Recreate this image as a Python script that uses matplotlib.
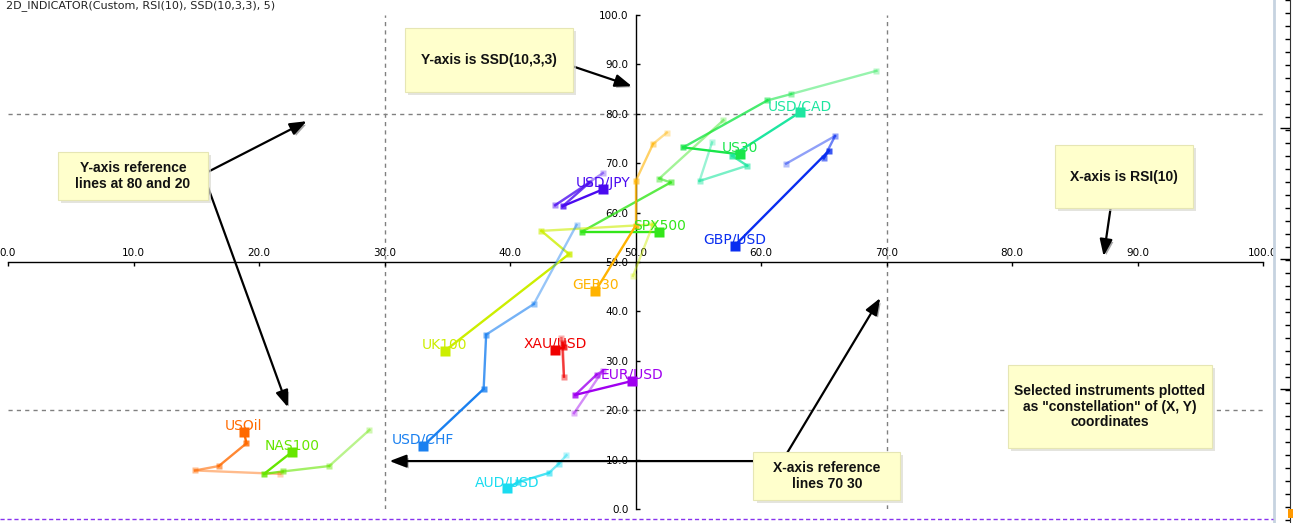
import matplotlib
matplotlib.use("Agg")
import matplotlib.pyplot as plt
import matplotlib.patheffects as pe
from matplotlib.patches import Rectangle
from matplotlib.lines import Line2D
from matplotlib.ticker import MultipleLocator, FixedLocator

# instruments, trail of 5 readings (oldest -> newest)
names = ["USD/CAD", "US30", "SPX500", "GBP/USD", "USD/JPY", "GER30", "UK100",
         "USD/CHF", "XAU/USD", "EUR/USD", "AUD/USD", "USOil", "NAS100"]
rsi = [
    [56.1, 55.1, 58.9, 57.7, 63.1],
    [69.2, 62.4, 60.5, 53.8, 58.3],
    [57.0, 51.9, 52.8, 45.7, 51.9],
    [62.0, 65.9, 65.0, 65.4, 57.9],
    [47.4, 43.6, 46.3, 44.2, 47.4],
    [52.5, 51.4, 50.0, 50.0, 46.8],
    [49.8, 51.4, 42.5, 44.7, 34.8],
    [45.3, 41.9, 38.1, 37.9, 33.1],
    [44.1, 44.3, 44.2, 44.3, 43.6],
    [45.1, 47.4, 46.9, 45.2, 49.7],
    [44.5, 43.9, 43.1, 40.6, 39.8],
    [21.7, 14.9, 16.8, 19.0, 18.8],
    [28.8, 25.6, 21.9, 20.4, 22.6],
]
ssd = [
    [74.2, 66.4, 69.5, 71.5, 80.3],
    [88.7, 84.0, 82.7, 73.2, 71.8],
    [78.7, 66.9, 66.1, 56.1, 56.1],
    [69.9, 75.5, 71.0, 72.5, 53.3],
    [68.0, 61.5, 66.0, 61.3, 64.7],
    [76.2, 73.9, 66.3, 57.3, 44.1],
    [47.2, 57.6, 56.3, 51.6, 32.0],
    [57.5, 41.5, 35.3, 24.3, 12.8],
    [34.6, 26.8, 33.6, 32.7, 32.2],
    [19.4, 28.0, 27.2, 23.1, 25.9],
    [10.9, 9.2, 7.3, 5.4, 4.2],
    [7.1, 7.8, 8.7, 13.3, 15.6],
    [16.0, 8.7, 7.6, 7.1, 11.5],
]
colors = ["#1ee6a0", "#19e64a", "#33e61a", "#0a2ef0", "#4a0af0", "#ffb300", "#ccee00",
          "#1a80f0", "#f00000", "#a000f0", "#1adcf0", "#ff6a00", "#66e600"]
alphas = [0.3, 0.45, 0.6, 0.8, 1.0]

ticks = [0, 10, 20, 30, 40, 50, 60, 70, 80, 90, 100]
ref_x = [30, 70]
ref_y = [20, 80]

W, H = 1293, 523
fig = plt.figure(figsize=(W / 100, H / 100), dpi=100)
ax = fig.add_axes([8 / W, 14 / H, 1255 / W, 494 / H])
ax.set_xlim(0, 100)
ax.set_ylim(0, 100)

for s in ["top", "right"]:
    ax.spines[s].set_visible(False)
ax.spines["left"].set_position(("data", 50))
ax.spines["bottom"].set_position(("data", 50))
for s in ["left", "bottom"]:
    ax.spines[s].set_linewidth(1.0)
    ax.spines[s].set_zorder(2)
ax.set_xticks(ticks)
ax.set_yticks(ticks)
ax.set_xticklabels(["%.1f" % t for t in ticks])
ax.set_yticklabels(["%.1f" % t for t in ticks])
ax.tick_params(axis="x", direction="out", length=3, width=1, labelsize=7.5, pad=-13)
ax.tick_params(axis="y", direction="in", length=3, width=1, labelsize=7.5, pad=5)

for v in ref_x:
    ax.axvline(v, color="#808080", lw=1, ls=(0, (3, 3)), zorder=1)
for v in ref_y:
    ax.axhline(v, color="#808080", lw=1, ls=(0, (3, 3)), zorder=1)

for name, xs, ys, c in zip(names, rsi, ssd, colors):
    n = len(xs)
    for i in range(n - 1):
        ax.plot(xs[i:i + 2], ys[i:i + 2], color=c, lw=1.7, alpha=alphas[i + 1], zorder=3)
    for i in range(n):
        big = i == n - 1
        ax.plot(xs[i], ys[i], marker="s", ms=6.5 if big else 4.5, color=c,
                mec="none", alpha=alphas[i], zorder=4)
    ax.annotate(name, (xs[-1], ys[-1]), xytext=(0, 1.5), textcoords="offset points",
                ha="center", va="baseline", color=c, fontsize=10, zorder=5)

# notes: box edges in data units
notes = [
    ("Y-axis is SSD(10,3,3)", 31.6, 45.0, 84.4, 97.4),
    ("Y-axis reference\nlines at 80 and 20", 4.0, 15.9, 62.6, 72.3),
    ("X-axis is RSI(10)", 83.4, 94.4, 60.9, 73.7),
    ("Selected instruments plotted\nas \"constellation\" of (X, Y)\ncoordinates", 79.7, 95.9, 12.3, 29.1),
    ("X-axis reference\nlines 70 30", 59.4, 71.1, 1.8, 11.5),
]
arrows = [
    ((44.9, 89.7), (49.7, 85.6)),
    ((15.9, 68.2), (23.8, 78.5)),
    ((15.9, 65.4), (22.3, 20.6)),
    ((88.0, 63.4), (87.3, 51.2)),
    ((62.0, 9.7), (30.4, 9.7)),
    ((62.0, 11.0), (69.5, 42.7)),
]

for tail, head in arrows:
    a = ax.annotate("", xy=head, xytext=tail, annotation_clip=False, zorder=6,
                    arrowprops=dict(arrowstyle="-|>,head_length=1.0,head_width=0.38",
                                    color="black", lw=1.6, shrinkA=0, shrinkB=0))
    a.arrow_patch.set_path_effects([pe.SimplePatchShadow(offset=(1.5, -1.5), alpha=0.35),
                                    pe.Normal()])

for text, x0, x1, y0, y1 in notes:
    ax.add_patch(Rectangle((x0 + 0.25, y0 - 0.6), x1 - x0, y1 - y0, facecolor="#d9d9d0",
                           edgecolor="none", alpha=0.7, zorder=7))
    ax.add_patch(Rectangle((x0, y0), x1 - x0, y1 - y0, facecolor="#ffffcc",
                           edgecolor="#e6e6b4", lw=0.8, zorder=8))
    ax.text((x0 + x1) / 2, (y0 + y1) / 2, text, ha="center", va="center",
            fontsize=10, fontweight="bold", family="Liberation Sans",
            color="#111111", linespacing=1.15, zorder=9)

fig.text(6 / W, 1 - 6 / H, "2D_INDICATOR(Custom, RSI(10), SSD(10,3,3), 5)",
         ha="left", va="center", fontsize=8, color="#222222")

# right-hand price scale strip
ax2 = fig.add_axes([1274 / W, 0, 16 / W, 1])
ax2.set_facecolor("white")
ax2.set_xlim(0, 1)
ax2.set_ylim(H, 0)
ax2.set_xticks([])
for s in ["top", "bottom"]:
    ax2.spines[s].set_visible(False)
ax2.spines["left"].set_color("#c6d3e0")
ax2.spines["left"].set_linewidth(2)
ax2.spines["right"].set_color("#333333")
ax2.yaxis.tick_right()
ax2.yaxis.set_major_locator(FixedLocator([128, 259, 389]))
ax2.yaxis.set_minor_locator(MultipleLocator(13))
ax2.tick_params(axis="y", which="major", direction="in", length=7, width=1, labelright=False)
ax2.tick_params(axis="y", which="minor", direction="in", length=3.5, width=1)

fig.add_artist(Line2D([0, 1273 / W], [4 / H, 4 / H], color="#8833ee", lw=1,
                      ls=(0, (3, 2))))
fig.add_artist(Rectangle((1288 / W, 5 / H), 5 / W, 9 / H, facecolor="#ff9900",
                         edgecolor="none", transform=fig.transFigure))

fig.savefig("out.png", dpi=100)
